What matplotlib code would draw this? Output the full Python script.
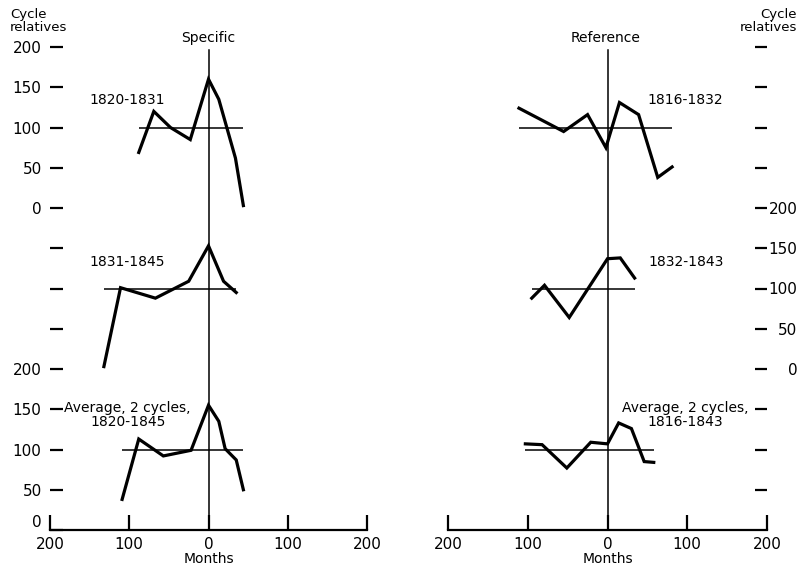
import matplotlib
matplotlib.use("Agg")
import matplotlib.pyplot as plt

plt.rcParams['font.family'] = ['DejaVu Sans']

# ---------------- data (months from turn, cycle relatives) ----------------
spec_1820_months = [-88, -69, -48, -23, 0, 13, 34, 44]
spec_1820_vals = [69, 120, 100, 85, 160, 135, 62, 3]
spec_1831_months = [-132, -111, -67, -25, 0, 19, 35]
spec_1831_vals = [3, 101, 88, 109, 153, 109, 95]
spec_avg_months = [-109, -88, -57, -22, 0, 13, 21, 35, 44]
spec_avg_vals = [38, 113, 92, 99, 155, 135, 101, 87, 50]

ref_1816_months = [-111, -55, -25, -2, 15, 39, 63, 81]
ref_1816_vals = [124, 95, 116, 75, 131, 116, 38, 51]
ref_1832_months = [-95, -79, -48, 0, 16, 34]
ref_1832_vals = [88, 104, 64, 137, 138, 113]
ref_avg_months = [-103, -82, -51, -21, 0, 14, 30, 46, 58]
ref_avg_vals = [107, 106, 77, 109, 107, 133, 126, 85, 84]

series_labels_left = ["1820-1831", "1831-1845", "Average, 2 cycles,\n1820-1845"]
series_labels_right = ["1816-1832", "1832-1843", "Average, 2 cycles,\n1816-1843"]
offsets = [400, 200, 0]          # vertical stacking of the three curves
base_value = 100

x_ticks = [-200, -100, 0, 100, 200]
x_tick_labels = ["200", "100", "0", "100", "200"]
left_ticks = [0, 50, 100, 150, 200, 250, 300, 350, 400, 450, 500, 550, 600]
left_tick_labels = ["0", "50", "100", "150", "200", "", "", "", "0", "50", "100", "150", "200"]
right_ticks = [50, 100, 150, 200, 250, 300, 350, 400, 450, 500, 550, 600]
right_tick_labels = ["", "", "", "0", "50", "100", "150", "200", "", "", "", ""]

# ---------------- figure ----------------
W, H = 801, 566
fig = plt.figure(figsize=(W / 100, H / 100), dpi=100)

ax_l = fig.add_axes([50 / W, 36 / H, 317 / W, 483 / H])
ax_r = fig.add_axes([448 / W, 36 / H, 319 / W, 483 / H])

def setup(ax):
    ax.set_xlim(-200, 200)
    ax.set_ylim(0, 600)
    ax.patch.set_alpha(0)
    for s in ["top", "left", "right"]:
        ax.spines[s].set_visible(False)
    ax.spines["bottom"].set_linewidth(1.6)
    ax.set_xticks(x_ticks)
    ax.set_xticklabels(x_tick_labels)
    ax.tick_params(axis="x", direction="in", length=11, width=1.6, pad=5, labelsize=11)
    ax.set_xlabel("Months", fontsize=10, labelpad=0)
    ax.axvline(0, ymin=0, ymax=596 / 600, color="black", lw=1.1, clip_on=False)

setup(ax_l)
setup(ax_r)

ax_l.set_yticks(left_ticks)
ax_l.set_yticklabels(left_tick_labels)
ax_l.tick_params(axis="y", direction="in", length=9, width=1.6, pad=6, labelsize=11)
ax_l.get_yticklabels()[0].set_verticalalignment("bottom")

ax_r.yaxis.set_ticks_position("right")
ax_r.set_yticks(right_ticks)
ax_r.set_yticklabels(right_tick_labels)
ax_r.tick_params(axis="y", direction="in", length=9, width=1.6, pad=22, labelsize=11)
for t in ax_r.get_yticklabels():
    t.set_horizontalalignment("right")

left_series = [(spec_1820_months, spec_1820_vals), (spec_1831_months, spec_1831_vals),
               (spec_avg_months, spec_avg_vals)]
right_series = [(ref_1816_months, ref_1816_vals), (ref_1832_months, ref_1832_vals),
                (ref_avg_months, ref_avg_vals)]

def draw(ax, series):
    for (m, v), off in zip(series, offsets):
        ax.hlines(base_value + off, min(m), max(m), color="black", lw=1.1)
        ax.plot(m, [val + off for val in v], color="black", lw=2.3,
                solid_joinstyle="miter", clip_on=False)

draw(ax_l, left_series)
draw(ax_r, right_series)

label_y = [534, 333, 143]
for lab, y in zip(series_labels_left, label_y):
    ax_l.text(-102, y, lab, ha="center", va="center", fontsize=10, linespacing=1.0)
for lab, y in zip(series_labels_right, label_y):
    ax_r.text(98, y, lab, ha="center", va="center", fontsize=10, linespacing=1.0)

ax_l.text(0, 611, "Specific", ha="center", va="center", fontsize=10, clip_on=False)
ax_r.text(-3, 611, "Reference", ha="center", va="center", fontsize=10, clip_on=False)

fig.text(10 / W, 1 - 21 / H, "Cycle\nrelatives", ha="left", va="center",
         fontsize=9.5, linespacing=1.0, multialignment="left")
fig.text(797 / W, 1 - 21 / H, "Cycle\nrelatives", ha="right", va="center",
         fontsize=9.5, linespacing=1.0, multialignment="right")

fig.savefig("out.png", dpi=100)
